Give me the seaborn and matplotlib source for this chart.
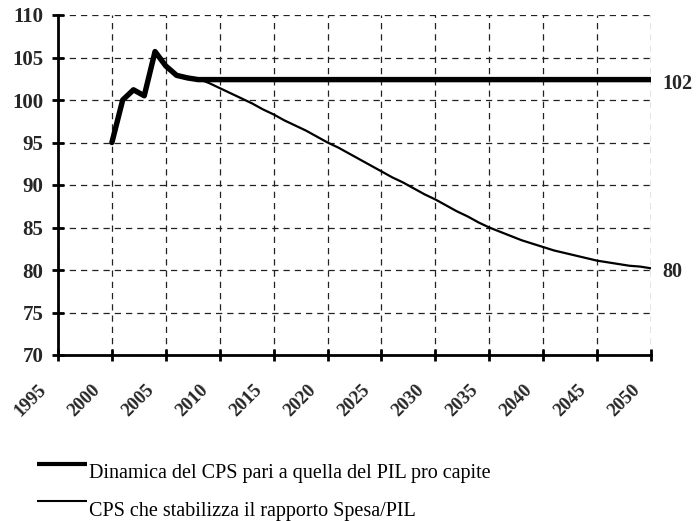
import matplotlib
matplotlib.use("Agg")
import matplotlib.pyplot as plt
import matplotlib.transforms as mtransforms
from matplotlib.lines import Line2D
import seaborn as sns
import pandas as pd

years = list(range(2000, 2051))

# CPS following GDP per capita growth
cps_pil = [95.0, 100.0, 101.2, 100.5, 105.7, 104.0, 102.9, 102.6, 102.4, 102.4,
           102.4, 102.4, 102.4, 102.4, 102.4, 102.4, 102.4, 102.4, 102.4, 102.4,
           102.4, 102.4, 102.4, 102.4, 102.4, 102.4, 102.4, 102.4, 102.4, 102.4,
           102.4, 102.4, 102.4, 102.4, 102.4, 102.4, 102.4, 102.4, 102.4, 102.4,
           102.4, 102.4, 102.4, 102.4, 102.4, 102.4, 102.4, 102.4, 102.4, 102.4,
           102.4]

# CPS that keeps the expenditure/GDP ratio stable
cps_stab = [95.0, 100.0, 101.2, 100.5, 105.7, 104.0, 102.9, 102.7, 102.5, 102.0,
            101.4, 100.8, 100.2, 99.6, 98.9, 98.3, 97.6, 97.0, 96.4, 95.7,
            95.0, 94.4, 93.7, 93.0, 92.3, 91.6, 90.9, 90.3, 89.6, 88.9,
            88.3, 87.6, 86.9, 86.3, 85.6, 85.0, 84.5, 84.0, 83.5, 83.1,
            82.7, 82.3, 82.0, 81.7, 81.4, 81.1, 80.9, 80.7, 80.5, 80.4,
            80.2]

x_ticks = list(range(1995, 2051, 5))
y_ticks = list(range(70, 111, 5))

label_pil = "Dinamica del CPS pari a quella del PIL pro capite"
label_stab = "CPS che stabilizza il rapporto Spesa/PIL"

sns.set_theme(style="white")
plt.rcParams["font.family"] = ["Liberation Serif", "DejaVu Serif"]

df_pil = pd.DataFrame({"anno": years, "valore": cps_pil})
df_stab = pd.DataFrame({"anno": years, "valore": cps_stab})

W, H = 696, 521
fig = plt.figure(figsize=(W / 100, H / 100), dpi=100)
ax = fig.add_axes([58 / W, 1 - 355 / H, (651 - 58) / W, (355 - 15) / H])

sns.lineplot(data=df_stab, x="anno", y="valore", ax=ax, color="black",
             linewidth=1.6, zorder=3)
sns.lineplot(data=df_pil, x="anno", y="valore", ax=ax, color="black",
             linewidth=3.9, zorder=4)

ax.set_xlim(x_ticks[0], x_ticks[-1])
ax.set_ylim(y_ticks[0], y_ticks[-1])
ax.set_xticks(x_ticks)
ax.set_yticks(y_ticks)
ax.set_xlabel("")
ax.set_ylabel("")

ax.grid(True, color="#222222", linestyle=(0, (5, 4)), linewidth=0.9)
for s in ["top", "right"]:
    ax.spines[s].set_visible(False)
for s in ["left", "bottom"]:
    ax.spines[s].set_color("black")
    ax.spines[s].set_linewidth(2.0)

ax.tick_params(axis="both", direction="inout", length=9, width=2.0,
               color="black", left=True, bottom=True)
ax.set_yticklabels([str(v) for v in y_ticks], fontsize=15, fontweight="bold")
ax.tick_params(axis="y", pad=6)

ax.set_xticklabels([str(v) for v in x_ticks], fontsize=13.5, fontweight="bold",
                   rotation=45, ha="right", va="center", rotation_mode="anchor")
ax.tick_params(axis="x", pad=0)
shift = mtransforms.ScaledTranslation(-14 / 100, -26 / 100, fig.dpi_scale_trans)
for lbl in ax.get_xticklabels():
    lbl.set_transform(lbl.get_transform() + shift)

# end-of-series values
for series in (cps_pil, cps_stab):
    ax.annotate(f"{series[-1]:.0f}", xy=(years[-1], series[-1]),
                xytext=(8.5, -3), textcoords="offset points",
                ha="left", va="center", fontsize=14.5, fontweight="bold",
                annotation_clip=False)

# legend below the plot
legend_rows = [(label_pil, 3.0, 464, 478), (label_stab, 1.5, 501, 516)]
for text, lw, y_line, y_base in legend_rows:
    fig.add_artist(Line2D([37 / W, 87 / W], [1 - y_line / H, 1 - y_line / H],
                          transform=fig.transFigure, color="black",
                          linewidth=lw, solid_capstyle="butt"))
    fig.text(89 / W, 1 - y_base / H, text, fontsize=14.5, color="black",
             ha="left", va="baseline")

fig.savefig("out.png", dpi=100)
